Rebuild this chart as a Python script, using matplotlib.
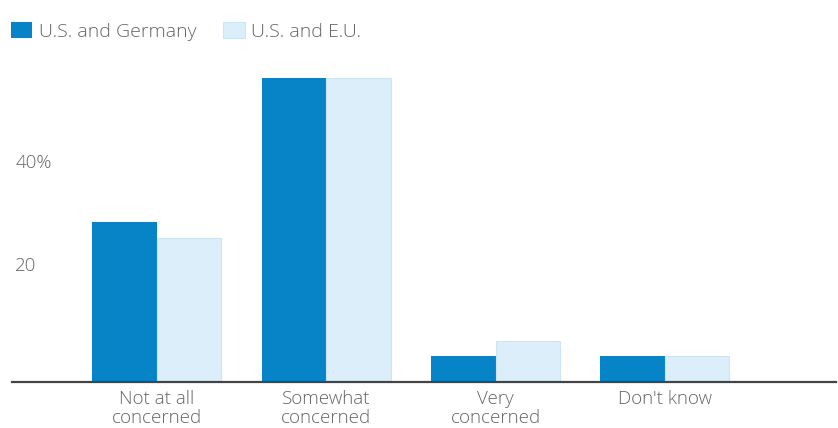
import matplotlib

matplotlib.use("Agg")
import matplotlib.pyplot as plt
import matplotlib.transforms as mtransforms
import numpy as np

CATEGORIES = ["Not at all\nconcerned", "Somewhat\nconcerned", "Very\nconcerned", "Don't know"]
SERIES = ["U.S. and Germany", "U.S. and E.U."]
GERMANY = [31, 59, 5, 5]
EU = [28, 59, 8, 5]
YTICKS = [20, 40]
YTICK_LABELS = ["20", "40%"]

DARK = "#0784c7"
LIGHT = "#dbeefa"
TEXT = "#656565"

plt.rcParams["font.family"] = ["Open Sans", "DejaVu Sans"]
plt.rcParams["font.weight"] = "light"

fig = plt.figure(figsize=(8.38, 4.28), dpi=100)
ax = fig.add_axes([12 / 838, 46 / 428, 824 / 838, 335 / 428])

x = np.arange(len(CATEGORIES))
w = 0.381
ax.bar(x - w / 2, GERMANY, w, color=DARK, label=SERIES[0])
ax.bar(x + w / 2, EU, w, color=LIGHT, edgecolor="#cde4f3", linewidth=0.8,
       label=SERIES[1])

ax.set_xlim(-0.856, 4.01)
ax.set_ylim(0, 65)

for s in ("top", "right", "left"):
    ax.spines[s].set_visible(False)
ax.spines["bottom"].set_color("#444444")
ax.spines["bottom"].set_linewidth(1.6)

ax.set_yticks([])
ax.set_xticks(x)
ax.set_xticklabels(CATEGORIES, fontsize=13.5, color=TEXT, linespacing=1.05)
ax.tick_params(axis="x", length=0, pad=6)

# value labels sit a bit above their value on this chart
off = mtransforms.offset_copy(ax.transData, fig=fig, x=0, y=13, units="dots")
trans = mtransforms.blended_transform_factory(ax.transAxes, off)
for v, lab in zip(YTICKS, YTICK_LABELS):
    ax.text(0.004, v, lab, transform=trans, ha="left", va="center",
            fontsize=13.5, color=TEXT)

handles, labels = ax.get_legend_handles_labels()
fig.legend(handles, labels, loc="upper left", bbox_to_anchor=(-0.003, 0.98),
           ncol=2, frameon=False, fontsize=14, handlelength=1.1,
           handleheight=0.9, handletextpad=0.35, columnspacing=1.35,
           labelcolor=TEXT, borderaxespad=0.3)

fig.savefig("out.png", dpi=100)
